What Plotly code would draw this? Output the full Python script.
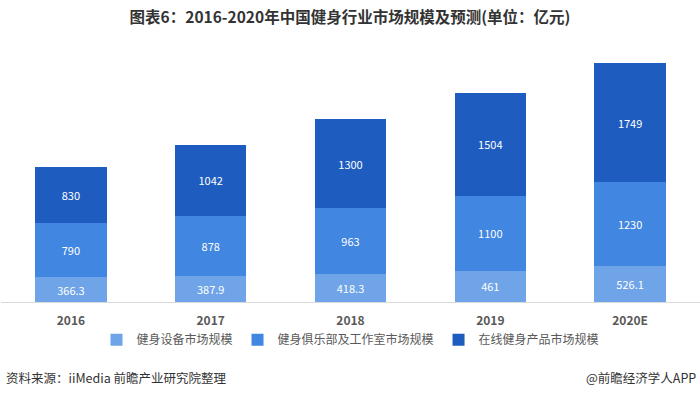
import plotly.graph_objects as go

years = ["2016", "2017", "2018", "2019", "2020E"]
equipment = [366.3, 387.9, 418.3, 461, 526.1]
clubs = [790, 878, 963, 1100, 1230]
online = [830, 1042, 1300, 1504, 1749]
names = ["健身设备市场规模", "健身俱乐部及工作室市场规模", "在线健身产品市场规模"]
colors = ["#6fa4e8", "#4186e0", "#1e5dbf"]

fig = go.Figure()
for vals, name, col in zip([equipment, clubs, online], names, colors):
    fig.add_trace(go.Bar(
        x=years, y=vals, name=name, marker=dict(color=col, line=dict(width=0)),
        text=[f"{v:g}" for v in vals], textposition="inside", insidetextanchor="middle",
        textfont=dict(color="white", size=11, family="Noto Sans CJK SC"),
        hoverinfo="skip",
    ))

fig.update_layout(
    barmode="stack", bargap=0.49,
    width=700, height=394,
    margin=dict(l=1, r=0, t=50, b=92),
    paper_bgcolor="white", plot_bgcolor="white",
    font=dict(family="Noto Sans CJK SC", color="#595959"),
    title=dict(text="<b>图表6：2016-2020年中国健身行业市场规模及预测(单位：亿元)</b>",
               x=0.5, xanchor="center", y=0.955, yanchor="middle",
               font=dict(size=15.5, color="#333333", family="Noto Sans CJK SC")),
    showlegend=True,
    legend=dict(orientation="h", x=0.5, xanchor="center", y=-0.15, yanchor="middle",
                font=dict(size=12, color="#595959"), traceorder="normal",
                itemwidth=30, tracegroupgap=0),
    xaxis=dict(showline=True, linecolor="#d9d9d9", linewidth=1, ticks="",
               ticklabelstandoff=8,
               tickfont=dict(size=12, color="#595959", family="Noto Sans CJK SC", weight="bold"),
               showgrid=False),
    yaxis=dict(range=[0, 3700], visible=False, showgrid=False),
    uniformtext=dict(minsize=10, mode="show"),
)

fig.add_annotation(text="资料来源：iiMedia 前瞻产业研究院整理", xref="paper", yref="paper",
                   x=0, y=-0.3, xanchor="left", yanchor="middle", showarrow=False,
                   font=dict(size=12.5, color="#333333"), xshift=3)
fig.add_annotation(text="@前瞻经济学人APP", xref="paper", yref="paper",
                   x=1, y=-0.3, xanchor="right", yanchor="middle", showarrow=False,
                   font=dict(size=12.5, color="#333333"), xshift=-2)

fig.write_html("out.html", config={"displayModeBar": False},
               post_script="document.body.style.margin='0px';")
